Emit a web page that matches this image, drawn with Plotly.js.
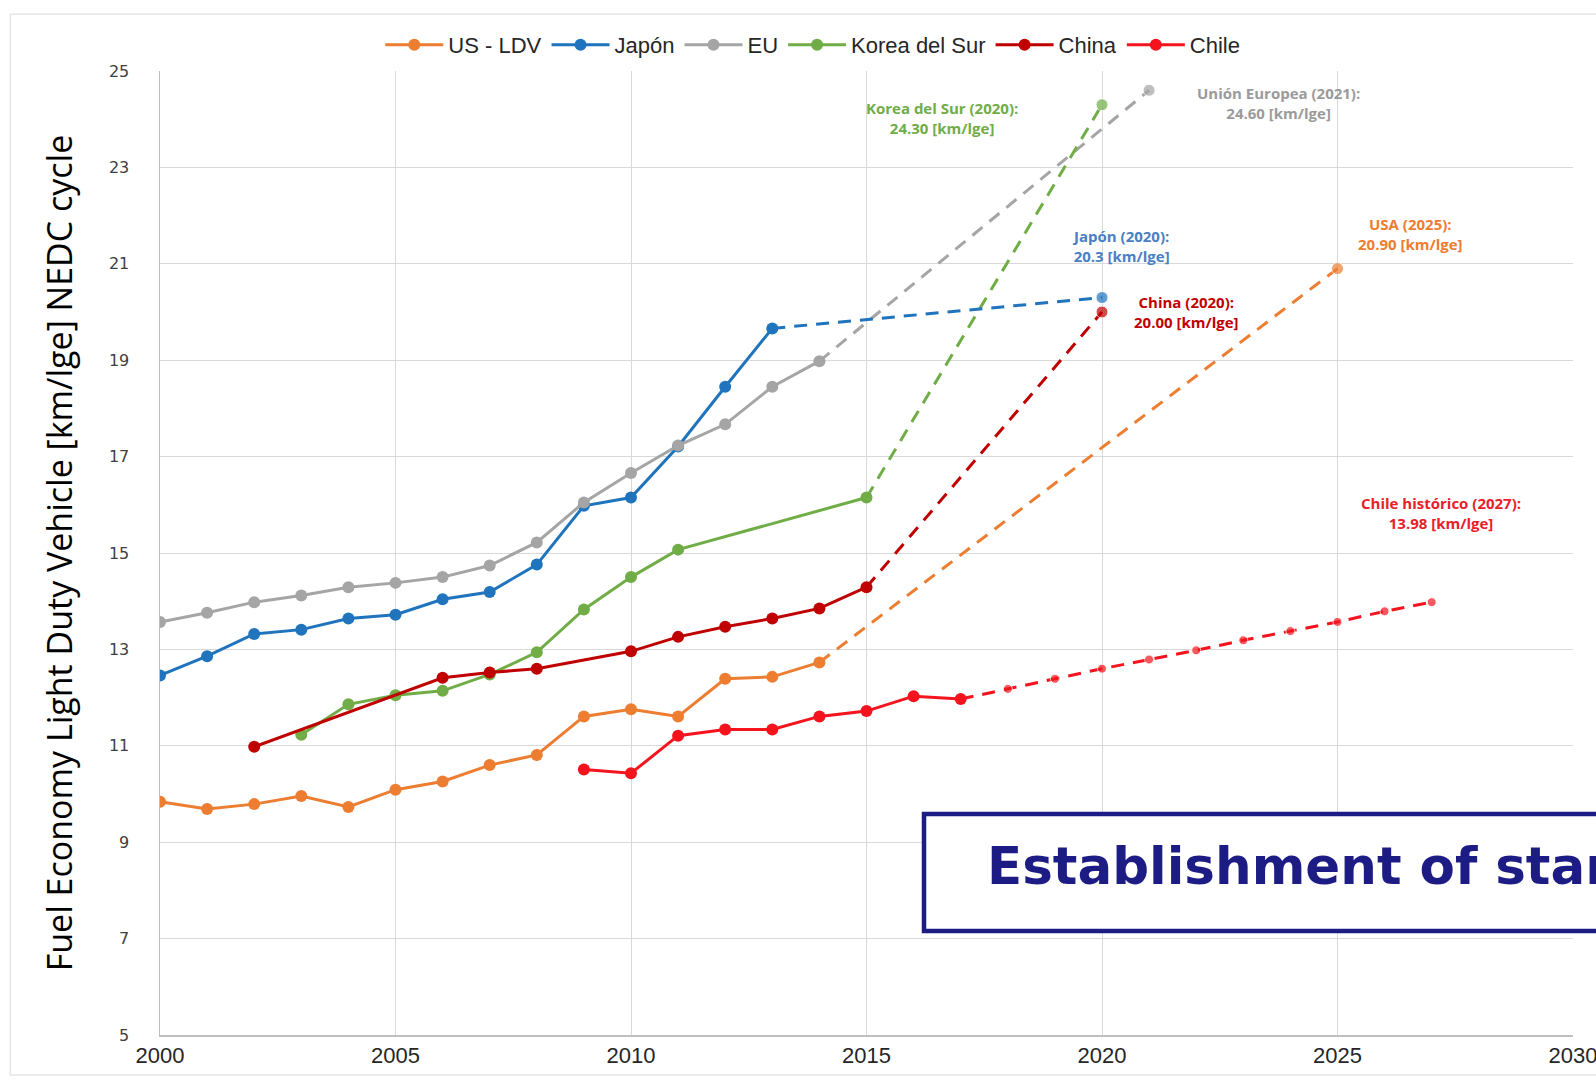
<!DOCTYPE html>
<html>
<head>
<meta charset="utf-8">
<script src="https://cdn.plot.ly/plotly-3.0.1.min.js"></script>
<style>
html,body{margin:0;padding:0;overflow:hidden;background:#fff;}
#chart{width:1596px;height:1080px;}
</style>
</head>
<body>
<div id="chart"></div>
<script>
// ---- Data ----
const seriesNames = ["US - LDV", "Japón", "EU", "Korea del Sur", "China", "Chile"];
const seriesColors = ["#ED7D31", "#1f74bd", "#A5A5A5", "#70AD47", "#C00000", "#F5141E"];

const usYears = [2000,2001,2002,2003,2004,2005,2006,2007,2008,2009,2010,2011,2012,2013,2014];
const usValues = [9.84,9.69,9.79,9.96,9.73,10.09,10.26,10.60,10.81,11.61,11.76,11.61,12.39,12.43,12.73];
const usTargetYear = [2025];
const usTargetValue = [20.90];

const jpYears = [2000,2001,2002,2003,2004,2005,2006,2007,2008,2009,2010,2011,2012,2013];
const jpValues = [12.46,12.86,13.32,13.41,13.64,13.72,14.04,14.19,14.76,15.98,16.15,17.21,18.45,19.66];
const jpTargetYear = [2020];
const jpTargetValue = [20.3];

const euYears = [2000,2001,2002,2003,2004,2005,2006,2007,2008,2009,2010,2011,2012,2013,2014];
const euValues = [13.57,13.76,13.98,14.12,14.29,14.38,14.50,14.74,15.22,16.05,16.66,17.23,17.67,18.45,18.98];
const euTargetYear = [2021];
const euTargetValue = [24.60];

const krYears = [2003,2004,2005,2006,2007,2008,2009,2010,2011,2015];
const krValues = [11.23,11.86,12.05,12.14,12.48,12.94,13.83,14.50,15.07,16.15];
const krTargetYear = [2020];
const krTargetValue = [24.30];

const cnYears = [2002,2006,2007,2008,2010,2011,2012,2013,2014,2015];
const cnValues = [10.98,12.41,12.52,12.60,12.96,13.26,13.47,13.64,13.85,14.29];
const cnTargetYear = [2020];
const cnTargetValue = [20.00];

const clYears = [2009,2010,2011,2012,2013,2014,2015,2016,2017];
const clValues = [10.51,10.43,11.21,11.34,11.34,11.61,11.72,12.03,11.97];
const clProjYears = [2018,2019,2020,2021,2022,2023,2024,2025,2026,2027];
const clProjValues = [12.18,12.39,12.60,12.79,12.98,13.19,13.38,13.57,13.79,13.98];

const xTicks = [2000,2005,2010,2015,2020,2025,2030];
const yTicks = [5,7,9,11,13,15,17,19,21,23,25];

const boxText = "Establishment of standards";

// ---- Build traces ----
const hist = [
  [usYears, usValues], [jpYears, jpValues], [euYears, euValues],
  [krYears, krValues], [cnYears, cnValues], [clYears, clValues]
];
const traces = [];
hist.forEach((h, i) => {
  traces.push({
    x: h[0], y: h[1], type: "scatter", mode: "lines+markers",
    name: seriesNames[i], legendrank: i + 1,
    line: {color: seriesColors[i], width: 3},
    marker: {color: seriesColors[i], size: 12}
  });
});

// Dashed projections: from last historical point to target
function proj(i, tYears, tVals, markerSizes) {
  const h = hist[i];
  const xs = [h[0][h[0].length - 1]].concat(tYears);
  const ys = [h[1][h[1].length - 1]].concat(tVals);
  traces.push({
    x: xs, y: ys, type: "scatter", mode: "lines+markers", showlegend: false,
    line: {color: seriesColors[i], width: 3, dash: "13px,9px"},
    marker: {color: seriesColors[i], size: markerSizes || xs.map((_, k) => k === 0 ? 0 : 12)}
  });
}
proj(2, euTargetYear, euTargetValue);
proj(3, krTargetYear, krTargetValue);
proj(0, usTargetYear, usTargetValue);
proj(1, jpTargetYear, jpTargetValue);
proj(4, cnTargetYear, cnTargetValue);
proj(5, clProjYears, clProjValues, [0].concat(clProjYears.map(() => 9)));

// ---- Annotations ----
const lblFont = (c) => ({family: "Open Sans, sans-serif", size: 15, color: c});
const annotations = [
  {x: 2016.6, y: 24.02, text: "<b>Korea del Sur (" + krTargetYear[0] + "):<br>" + krTargetValue[0].toFixed(2) + " [km/lge]</b>", font: lblFont("#70AD47")},
  {x: 2023.75, y: 24.34, text: "<b>Unión Europea (" + euTargetYear[0] + "):<br>" + euTargetValue[0].toFixed(2) + " [km/lge]</b>", font: lblFont("#9a9a9a")},
  {x: 2020.4, y: 21.37, text: "<b>Japón (" + jpTargetYear[0] + "):<br>" + jpTargetValue[0].toFixed(1) + " [km/lge]</b>", font: lblFont("#4a7fc4")},
  {x: 2026.55, y: 21.62, text: "<b>USA (" + usTargetYear[0] + "):<br>" + usTargetValue[0].toFixed(2) + " [km/lge]</b>", font: lblFont("#ED7D31")},
  {x: 2021.8, y: 20.0, text: "<b>China (" + cnTargetYear[0] + "):<br>" + cnTargetValue[0].toFixed(2) + " [km/lge]</b>", font: lblFont("#C00000")},
  {x: 2027.2, y: 15.83, text: "<b>Chile histórico (" + clProjYears[clProjYears.length-1] + "):<br>" + clProjValues[clProjValues.length-1].toFixed(2) + " [km/lge]</b>", font: lblFont("#E8202A")}
].map(a => Object.assign({xref: "x", yref: "y", showarrow: false, align: "center", xanchor: "center", yanchor: "middle"}, a));

annotations.push({
  xref: "paper", yref: "paper", x: 0.5839, y: 0.1753, xanchor: "left", yanchor: "middle",
  showarrow: false, align: "left", text: "<b>" + boxText + "</b>",
  font: {family: "DejaVu Sans, Verdana, sans-serif", size: 51.5, color: "#1c1c84"}
});

const shapes = [
  // outer chart frame
  {type: "rect", xref: "paper", yref: "paper", x0: -0.106, x1: 1.1, y0: -0.0415, y1: 1.059,
   line: {color: "#D9D9D9", width: 1}, fillcolor: "rgba(0,0,0,0)", layer: "below"},
  // navy box
  {type: "rect", xref: "paper", yref: "paper", x0: 0.5407, x1: 1.1, y0: 0.1079, y1: 0.2293,
   line: {color: "#1c1c84", width: 4.5}, fillcolor: "#ffffff"}
];

const layout = {
  width: 1596, height: 1080,
  margin: {l: 160, r: 23, t: 71, b: 45},
  paper_bgcolor: "#ffffff", plot_bgcolor: "#ffffff",
  showlegend: true,
  legend: {
    orientation: "h", x: 0.462, xanchor: "center", y: 1.027, yanchor: "middle",
    font: {family: "Liberation Sans Narrow, Arial Narrow, sans-serif", size: 22, color: "#262626"},
    traceorder: "normal", itemwidth: 58, bgcolor: "rgba(0,0,0,0)"
  },
  xaxis: {
    range: [2000, 2030], tickvals: xTicks, ticktext: xTicks.map(String),
    showgrid: true, gridcolor: "#D9D9D9", gridwidth: 1,
    zeroline: false, showline: true, linecolor: "#BFBFBF", linewidth: 1.5, mirror: false,
    ticks: "", ticklabelstandoff: 0, ticklabeloverflow: "allow",
    tickfont: {family: "Liberation Sans Narrow, Arial Narrow, sans-serif", size: 22, color: "#262626"}
  },
  yaxis: {
    range: [5, 25], tickvals: yTicks, ticktext: yTicks.map(String),
    showgrid: true, gridcolor: "#D9D9D9", gridwidth: 1,
    zeroline: false, showline: true, linecolor: "#BFBFBF", linewidth: 1.5,
    ticks: "", ticklabelstandoff: 26,
    tickfont: {family: "DejaVu Sans, sans-serif", size: 16, color: "#404040"},
    title: {text: "Fuel Economy Light Duty Vehicle [km/lge] NEDC cycle",
            font: {family: "Open Sans, sans-serif", size: 34, color: "#000000"}, standoff: 26}
  },
  annotations: annotations,
  shapes: shapes
};

Plotly.newPlot("chart", traces, layout, {displayModeBar: false, staticPlot: true});
</script>
</body>
</html>
